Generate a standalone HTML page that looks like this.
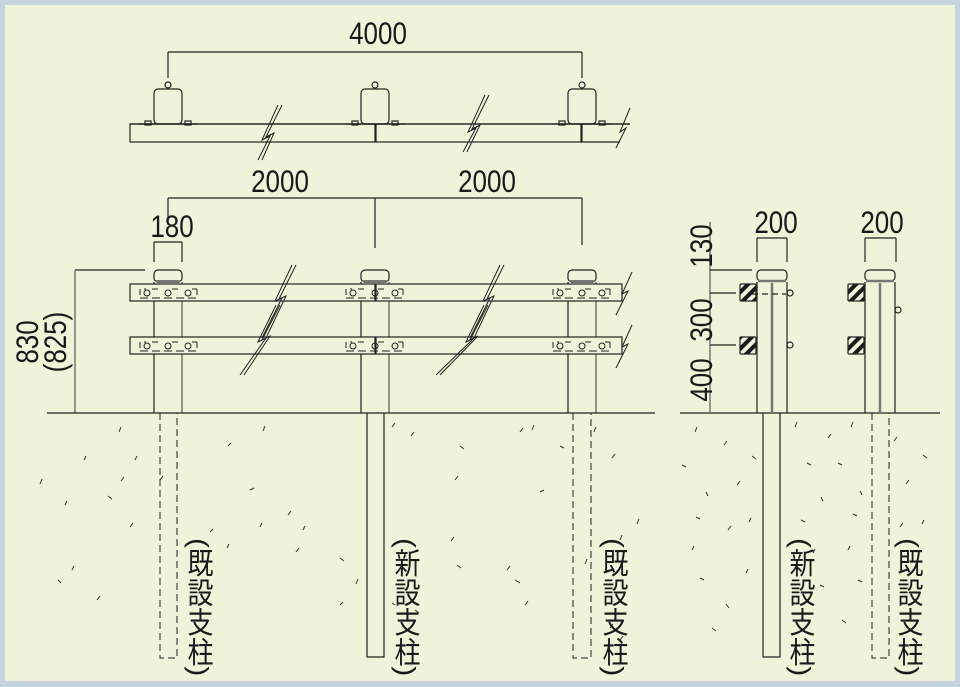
<!DOCTYPE html>
<html><head><meta charset="utf-8"><style>
html,body{margin:0;padding:0;}
body{width:960px;height:687px;background:#c3d2dc;position:relative;overflow:hidden;}
#bg{position:absolute;left:5px;top:5px;width:950px;height:676px;background:#eef3da;}
svg{position:absolute;left:0;top:0;}
.v{position:absolute;writing-mode:vertical-rl;font-family:"Liberation Sans","Noto Sans CJK JP",sans-serif;font-size:26px;line-height:28px;color:#1a1a1a;white-space:nowrap;transform:scaleY(1.14);transform-origin:top left;}
</style></head><body>
<div id="bg"></div>
<svg width="960" height="687" viewBox="0 0 960 687" font-family="Liberation Sans, sans-serif">
<defs>
<pattern id="h" width="8" height="8" patternUnits="userSpaceOnUse" patternTransform="rotate(45)">
<rect width="8" height="8" fill="#eef3da"/><rect width="4" height="8" fill="#1a1a1a"/></pattern>
</defs>
<g stroke="#222" stroke-width="1.2" fill="none">
<line x1="168" y1="52" x2="582" y2="52"/><line x1="168" y1="52" x2="168" y2="78"/><line x1="582" y1="52" x2="582" y2="78"/>
<line x1="130" y1="124" x2="630" y2="124" stroke="#777" stroke-width="1.5"/>
<rect x="130" y="124" width="245" height="18"/><rect x="376" y="124" width="205" height="18"/>
<path d="M630 124 H582 V142 H620"/>
<g id="pc">
<rect x="154" y="89" width="28" height="35" rx="4"/>
<circle cx="168" cy="85" r="3"/>
<rect x="145" y="121" width="6" height="4"/><rect x="185" y="121" width="6" height="4"/>
<line x1="138" y1="124" x2="198" y2="124"/>
</g>
<use href="#pc" x="207"/><use href="#pc" x="414"/>
<path d="M278 105 L262 140 L270 136 L258 160 M282 105 L266 137 L274 133 L262 160" stroke-width="1"/>
<path d="M485 95 L468 132 L476 128 L463 152 M489 95 L472 129 L480 125 L467 152" stroke-width="1"/>
<path d="M630 108 L620 132 L626 128 L616 148" stroke-width="1"/>
<line x1="168" y1="198" x2="582" y2="198"/>
<line x1="168" y1="198" x2="168" y2="225"/><line x1="375" y1="198" x2="375" y2="248"/><line x1="582" y1="198" x2="582" y2="245"/>
<line x1="154" y1="242" x2="182" y2="242"/><line x1="154" y1="242" x2="154" y2="262"/><line x1="182" y1="242" x2="182" y2="262"/>
<line x1="75" y1="270" x2="145" y2="270"/><line x1="75" y1="270" x2="75" y2="413" stroke="#777" stroke-width="1.5"/>
<g id="fp">
<rect x="154" y="270" width="28" height="12" rx="4"/>
<line x1="155" y1="281" x2="181" y2="281" stroke="#777" stroke-width="2"/>
<line x1="154" y1="282" x2="154" y2="413"/><line x1="182" y1="282" x2="182" y2="413" stroke="#555"/>
</g>
<use href="#fp" x="207"/><use href="#fp" x="414"/>
<g id="rl">
<rect x="130" y="284" width="245" height="17" fill="#eef3da"/>
<rect x="376" y="284" width="246" height="17" fill="#eef3da"/>
</g>
<use href="#rl" y="53"/>
<g stroke-width="1" id="bl">
<path d="M140 295 V289 H146 M152 289 H160 M172 289 H180 M192 289 H197 M197 289 V296" stroke-dasharray="6 4"/>
<circle cx="147" cy="293" r="3"/><circle cx="168" cy="293" r="3"/><circle cx="188" cy="293" r="3"/>
<line x1="140" y1="298" x2="198" y2="298" stroke-dasharray="8 4"/>
</g>
<use href="#bl" y="53"/>
<g id="bl2" stroke-width="1">
<path d="M346 295 V289 H352 M358 289 H366 M378 289 H388 M398 289 H403 M403 289 V296" stroke-dasharray="6 4"/>
<circle cx="353" cy="293" r="3"/><circle cx="375" cy="293" r="3"/><circle cx="395" cy="293" r="3"/>
<line x1="346" y1="298" x2="404" y2="298" stroke-dasharray="8 4"/>
</g>
<use href="#bl2" y="53"/><use href="#bl2" x="207"/><use href="#bl2" x="207" y="53"/>
<path d="M292 265 L275 301 L282 298 L262 338 M296 265 L279 299 L286 296 L266 338" stroke-width="1"/>
<path d="M276 305 L258 342 L266 338 L240 375 M280 305 L262 340 L270 336 L244 375" stroke-width="1"/>
<path d="M500 265 L483 301 L490 298 L470 338 M504 265 L487 299 L494 296 L474 338" stroke-width="1"/>
<path d="M484 305 L466 342 L474 338 L436 375 M488 305 L470 340 L478 336 L440 375" stroke-width="1"/>
<path d="M632 272 L622 294 L628 291 L616 315" stroke-width="1"/>
<path d="M632 325 L622 347 L628 344 L616 368" stroke-width="1"/>
<line x1="47" y1="413" x2="655" y2="413"/>
<line x1="680" y1="413" x2="940" y2="413"/>
<path d="M160 413 V658 H177 V413" stroke-dasharray="7 4" stroke-width="1"/>
<path d="M573 413 V658 H591 V413" stroke-dasharray="7 4" stroke-width="1"/>
<path d="M367 413 V657 H384 V413"/>
<line x1="710" y1="222" x2="710" y2="413" stroke="#777" stroke-width="1.5"/>
<line x1="710" y1="270" x2="752" y2="270"/><line x1="710" y1="293" x2="736" y2="293"/><line x1="710" y1="345" x2="736" y2="345"/>
<line x1="757" y1="238" x2="787" y2="238"/><line x1="757" y1="238" x2="757" y2="262"/><line x1="787" y1="238" x2="787" y2="262"/>
<line x1="865" y1="238" x2="896" y2="238"/><line x1="865" y1="238" x2="865" y2="262"/><line x1="896" y1="238" x2="896" y2="262"/>
<g id="sp">
<rect x="757" y="270" width="30" height="11" rx="4"/>
<line x1="758" y1="281" x2="786" y2="281" stroke="#777" stroke-width="2.5"/>
<line x1="757" y1="282" x2="757" y2="413"/><line x1="787" y1="282" x2="787" y2="413"/>
<line x1="772" y1="283" x2="772" y2="413" stroke="#777" stroke-width="2.5"/>
<rect x="740" y="284" width="16" height="17" fill="url(#h)" rx="1"/>
<rect x="740" y="337" width="16" height="17" fill="url(#h)" rx="1"/>
</g>
<use href="#sp" x="108"/>
<line x1="752" y1="294" x2="786" y2="294" stroke-dasharray="6 4"/>
<circle cx="790" cy="293" r="3"/><circle cx="790" cy="345" r="3"/><circle cx="898" cy="310" r="3"/>
<path d="M763 413 V657 H780 V413"/>
<path d="M872 413 V658 H889 V413" stroke-dasharray="7 4" stroke-width="1"/>
</g>
<g stroke="#333" stroke-width="1">
<path d="M119 432l2-5M135 460l2-4M263 431l2-5M228 446l3-3M392 427l3-4M411 436l3-4M460 446l4 3M520 432l3-4M532 430l2-5M560 446l4 2M594 432l2-5M612 458l3-4M84 460l2-4M65 505l2-4M121 481l3-4M108 496l4 3M40 484l2-5M160 480l3-4M250 490l4-2M303 530l2-4M288 515l3-4M455 480l3-4M540 492l4-2M210 532l3-3M227 548l2-4M260 527l2-4M296 552l3-4M340 558l4 3M356 584l2-5M392 603l3 2M457 565l4 3M451 541l3-4M507 570l3-4M515 580l5 3M585 564l2-5M610 628l3-4M620 540l2-5M637 524l2-5M58 580l3 3M72 570l2-4M97 600l3-4M130 527l3-4M340 605l3-3M415 610l4 3M525 605l3-4M620 640l3-4M695 432l2-5M724 445l3-4M752 456l4 3M682 465l4 2M706 492l2 4M737 485l3-4M696 517l4 2M728 530l3-4M749 522l2-4M692 550l2-4M700 578l4 2M746 573l2-4M726 604l3 4M712 628l4 3M795 427l2-5M828 438l3-4M851 427l2-5M807 463l4 2M838 463l4 2M821 497l2 4M860 491l2 4M801 520l4 2M853 514l4 2M813 553l2-4M848 550l2-4M820 585l4 2M858 580l4 2M842 620l4 3M894 441l3-4M923 455l4 3M906 484l3-4M900 527l3-4M922 524l2-4"/>
</g>
<g font-size="26" fill="#1a1a1a" text-anchor="middle">
<text transform="translate(378 44) scale(1,1.2)">4000</text>
<text transform="translate(280 192) scale(1,1.2)">2000</text>
<text transform="translate(487 192) scale(1,1.2)">2000</text>
<text transform="translate(172 237) scale(1,1.2)">180</text>
<text transform="translate(776 233) scale(1,1.2)">200</text>
<text transform="translate(882 233) scale(1,1.2)">200</text>
<text transform="translate(38 342) rotate(-90) scale(1,1.2)">830</text>
<text transform="translate(66 342) rotate(-90) scale(1,1.2)">(825)</text>
<text transform="translate(712 246) rotate(-90) scale(1,1.2)">130</text>
<text transform="translate(712 320) rotate(-90) scale(1,1.2)">300</text>
<text transform="translate(712 380) rotate(-90) scale(1,1.2)">400</text>
</g>
</svg>
<div class="v" style="left:185px;top:538px;">(既設支柱)</div>
<div class="v" style="left:392px;top:538px;">(新設支柱)</div>
<div class="v" style="left:600px;top:538px;">(既設支柱)</div>
<div class="v" style="left:787px;top:538px;">(新設支柱)</div>
<div class="v" style="left:895px;top:538px;">(既設支柱)</div>
</body></html>
